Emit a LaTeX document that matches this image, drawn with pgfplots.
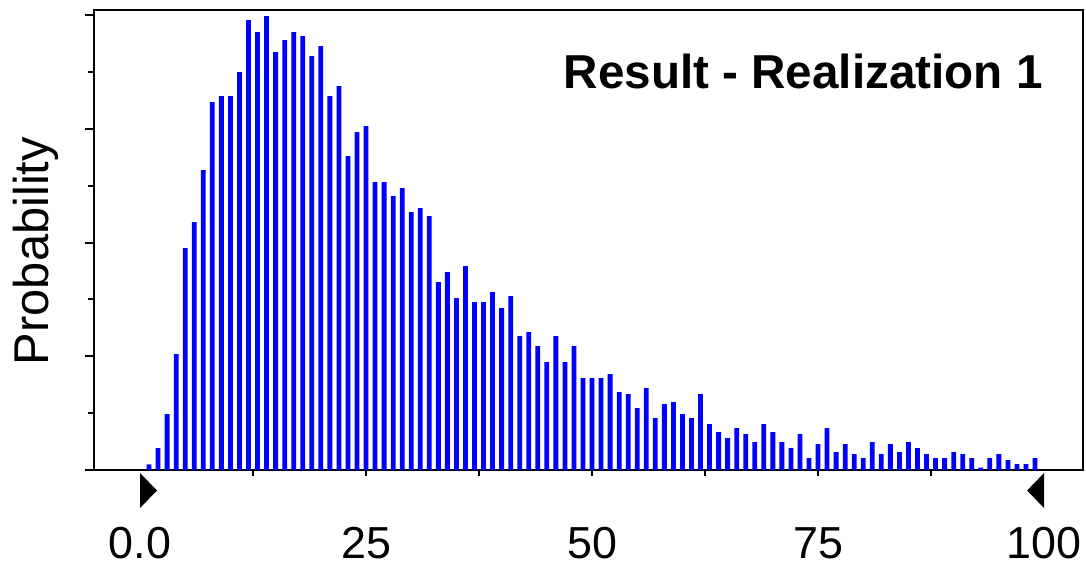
\documentclass[border=0pt]{standalone}
\usepackage{fontspec}
\setmainfont{Liberation Sans}
\usepackage{pgfplots}
\pgfplotsset{compat=1.18}
\begin{document}
\begin{tikzpicture}[x=1bp,y=1bp]
\useasboundingbox (-47,-48) rectangle (496,235);
\begin{axis}[
  scale only axis, width=494.5bp, height=230bp,
  at={(0,0)}, anchor=south west,
  xmin=-5.09, xmax=104.31, ymin=0, ymax=460,
  clip=false,
  axis line style={line width=1.35bp, black},
  every tick/.style={black, line width=1bp},
  tick align=outside,
  xtick pos=left, ytick pos=left,
  xtick={0,25,50,75,100},
  xticklabels={0.0,25,50,75,100},
  major x tick style={draw=none},
  minor xtick={12.5,25,37.5,50,62.5,75,87.5},
  ytick={0,113.75,227.5,341.25,455},
  minor ytick={56.875,170.625,284.375,398.125},
  yticklabels={},
  major tick length=4.5bp, minor tick length=3bp,
  /pgf/number format/assume math mode=true,
  xticklabel style={font=\fontsize{22.5}{27}\selectfont, inner sep=0pt, anchor=north, yshift=-24bp},
  ylabel={Probability},
  ylabel style={at={(axis description cs:-0.0455,0.476)}, anchor=base, inner sep=0pt, font=\fontsize{24.5}{29}\selectfont},
]
\addplot[ybar, fill=blue, draw=none, bar width=2.4bp] table {
x h
1 5.7
2 22
3 56
4 116
5 222
6 248
7 300
8 368
9 374
10 374
11 398
12 450
13 438
14 454
15 418
16 430
17 438
18 434
19 414
20 424
21 374
22 384
23 314
24 338
25 344
26 288
27 288
28 274
29 282
30 258
31 262
32 254
33 188
34 198
35 172
36 204
37 168
38 168
39 178
40 162
41 174
42 134
43 138
44 124
45 108
46 134
47 108
48 124
49 92
50 92
51 92
52 96
53 78
54 76
55 62
56 82
57 52
58 66
59 68
60 56
61 52
62 76
63 46
64 38
65 32
66 42
67 36
68 28
69 46
70 38
71 28
72 22
73 36
74 12
75 26
76 42
77 18
78 26
79 16
80 12
81 28
82 16
83 26
84 18
85 28
86 22
87 16
88 12
89 12
90 18
91 16
92 12
93 2.3
94 12
95 16
96 10
97 6
98 6
99 12
};
\addplot[fill=black, draw=none] coordinates {(0,-3) (0,-38) (1.88,-20.5)} -- cycle;
\addplot[fill=black, draw=none] coordinates {(100,-3) (100,-38) (98.12,-20.5)} -- cycle;
\node[anchor=base east, inner sep=0pt, font=\bfseries\fontsize{23.9}{29}\selectfont] at (axis description cs:0.9596,0.8304) {Result - Realization 1};
\end{axis}
\end{tikzpicture}
\end{document}
